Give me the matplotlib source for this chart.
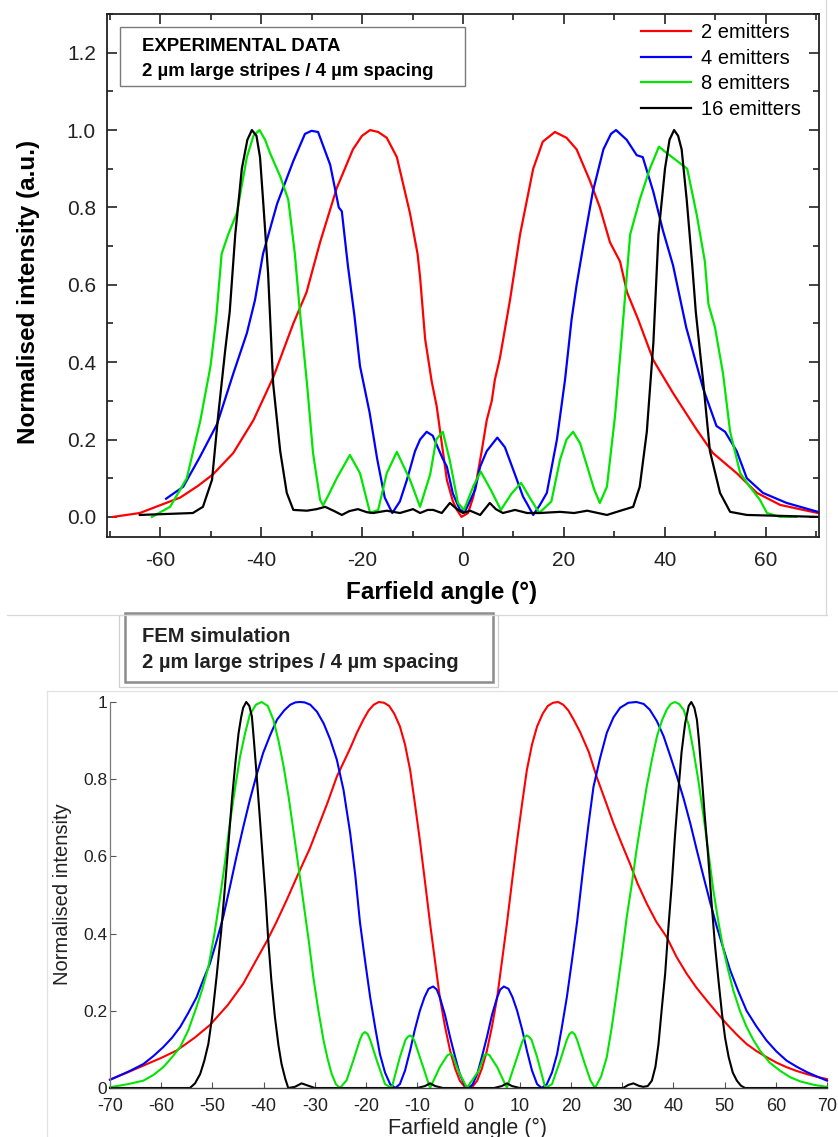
import matplotlib
matplotlib.use("Agg")
import matplotlib.pyplot as plt
from matplotlib.lines import Line2D
from matplotlib.patches import Rectangle
from matplotlib.ticker import MultipleLocator, FormatStrFormatter

plt.rcParams['font.family'] = ['Liberation Sans', 'DejaVu Sans']

# ---------------- experimental data (top panel) ----------------
exp_red_x = [-69.3, -64, -60, -56, -52.5, -49.5, -45.5, -41.5, -37.6, -33.6, -31, -28.3, -25, -21.8, -20,
             -18.4, -16.8, -15.1, -13.1, -10.5, -9, -8.5, -7.5, -6.2, -5.2, -4.2, -3.2, -2, -1.2, -0.3, 1, 2,
             2.7, 3.7, 4.7, 5.7, 6.3, 7.3, 8.5, 9.3, 11.3, 13.9, 15.8, 18.2, 20.5, 22.5, 25.1, 27.1, 29.1,
             31.1, 32.5, 34.7, 37.7, 41.6, 46.3, 49.5, 54.2, 58.2, 62.8, 67.4, 70.3]
exp_red_y = [0.0, 0.01, 0.03, 0.05, 0.08, 0.11, 0.165, 0.25, 0.36, 0.50, 0.58, 0.71, 0.85, 0.95, 0.985,
             1.0, 0.995, 0.98, 0.93, 0.785, 0.68, 0.62, 0.46, 0.35, 0.285, 0.19, 0.096, 0.04, 0.018, 0.0, 0.01,
             0.05, 0.096, 0.17, 0.25, 0.30, 0.354, 0.41, 0.50, 0.56, 0.73, 0.90, 0.97, 0.995, 0.98, 0.95, 0.87,
             0.80, 0.71, 0.66, 0.58, 0.51, 0.405, 0.32, 0.225, 0.165, 0.113, 0.062, 0.031, 0.018, 0.01]

exp_blue_x = [-58.8, -55.4, -52.1, -48.7, -45.5, -42.8, -41.2, -39.6, -36.8, -33.6, -31.3, -30, -28.7,
              -26.3, -24.6, -24.0, -22.8, -21.5, -20.4, -18.5, -17, -15.5, -14, -12.5, -11.1, -9.5, -8.5, -7.2,
              -6, -4, -3.2, -2, -0.6, 0.4, 2.4, 3.4, 4.7, 6.8, 8.3, 10, 11.9, 12.6, 13.9, 15.2, 16.6, 18.6,
              20.2, 21.5, 22.5, 23.8, 25.7, 27.8, 29.3, 30.3, 32.4, 34.4, 35.6, 37.7, 39.6, 41.6, 44.2, 47.6,
              50.2, 51.9, 54.2, 56.2, 59.4, 64.1, 70.3]
exp_blue_y = [0.047, 0.078, 0.155, 0.24, 0.37, 0.475, 0.56, 0.68, 0.81, 0.92, 0.99, 0.998, 0.995,
              0.91, 0.80, 0.79, 0.65, 0.52, 0.39, 0.27, 0.15, 0.05, 0.01, 0.04, 0.096, 0.17, 0.2, 0.22, 0.21,
              0.15, 0.13, 0.06, 0.018, 0.014, 0.07, 0.13, 0.17, 0.205, 0.18, 0.12, 0.052, 0.036, 0.005, 0.03,
              0.062, 0.2, 0.354, 0.51, 0.6, 0.70, 0.84, 0.95, 0.99, 1.0, 0.975, 0.935, 0.93, 0.84, 0.74,
              0.65, 0.49, 0.33, 0.235, 0.22, 0.17, 0.10, 0.062, 0.036, 0.013]

exp_green_x = [-61.6, -58, -54.7, -52, -50, -48.9, -47.8, -46.5, -44.8, -42.8, -41.5, -40.3, -39.2, -38.2,
               -36.2, -34.6, -33.3, -32.3, -30.9, -29.7, -28.3, -27.7, -26.5, -25, -22.4, -20.4, -18.4, -16.8,
               -15.1, -13.1, -10.5, -8.5, -6.5, -5.3, -4, -2.6, -1, 0.2, 2, 3.5, 5.5, 7.5, 9.6, 11.5, 13.3,
               15.1, 17.5, 19.2, 20.5, 21.8, 23.2, 24.6, 26, 27.1, 28.5, 30.1, 31.5, 33.1, 35, 37, 38.8,
               40.4, 42.4, 44.4, 46.3, 47.9, 48.6, 49.9, 51.5, 52.9, 54.9, 56.8, 58.8, 60.2, 62.8, 66]
exp_green_y = [0.0, 0.026, 0.10, 0.25, 0.39, 0.51, 0.68, 0.73, 0.785, 0.93, 0.985, 1.0, 0.975, 0.94,
               0.88, 0.82, 0.68, 0.53, 0.345, 0.165, 0.044, 0.03, 0.06, 0.10, 0.16, 0.113, 0.01, 0.018,
               0.113, 0.168, 0.096, 0.026, 0.11, 0.2, 0.22, 0.145, 0.036, 0.018, 0.078, 0.117, 0.07, 0.018,
               0.06, 0.088, 0.048, 0.01, 0.04, 0.147, 0.2, 0.22, 0.19, 0.13, 0.07, 0.036, 0.078, 0.26, 0.475,
               0.73, 0.82, 0.90, 0.957, 0.94, 0.92, 0.90, 0.78, 0.66, 0.55, 0.49, 0.37, 0.22, 0.113, 0.078,
               0.044, 0.01, 0.0, 0.0]

exp_black_x = [-64, -53.5, -51.5, -49.7, -48.5, -47.1, -46.2, -45.1, -43.8, -42.7, -41.8, -40.9, -40.2,
               -39.6, -38.6, -37.6, -36.2, -34.9, -33.6, -30.9, -29, -27.3, -25.5, -24, -22.5, -20.8, -19,
               -17.8, -15.1, -12.5, -9.9, -8.5, -7, -5.9, -4.2, -2.6, -1.2, 0, 1.4, 3.4, 5.3, 6.5, 7.9, 10.3,
               12.7, 15.2, 19.2, 22, 24.6, 28.5, 31.7, 33.7, 35, 36.4, 37.7, 38.7, 40, 40.9, 41.8, 42.6, 43.3,
               44.3, 45.4, 46.1, 47.6, 48.9, 50.9, 52.9, 56.2, 70.3]
exp_black_y = [0.005, 0.01, 0.026, 0.096, 0.26, 0.43, 0.53, 0.73, 0.90, 0.975, 1.0, 0.985, 0.93,
               0.82, 0.63, 0.345, 0.17, 0.062, 0.018, 0.016, 0.02, 0.026, 0.015, 0.005, 0.015, 0.02, 0.012,
               0.01, 0.016, 0.01, 0.02, 0.01, 0.018, 0.018, 0.01, 0.036, 0.02, 0.01, 0.016, 0.005, 0.036,
               0.02, 0.01, 0.018, 0.01, 0.01, 0.013, 0.01, 0.016, 0.005, 0.018, 0.026, 0.078, 0.22, 0.45,
               0.73, 0.90, 0.975, 1.0, 0.985, 0.95, 0.82, 0.65, 0.53, 0.345, 0.17, 0.062, 0.013, 0.005, 0.0]

# ---------------- FEM simulation (bottom panel) ----------------
sim_red_x = [-70, -67, -63.5, -60, -57, -53.5, -50.5, -47, -44, -41.5, -39.4, -37.5, -35.5, -32.9, -31,
             -29.6, -27.5, -25.7, -23.1, -21.8, -20.5, -19.5, -18.5, -17.5, -16.5, -15.5, -14.5, -13.4,
             -12.4, -11.4, -10.5, -9.5, -8.5, -7.5, -6.5, -5.6, -4.6, -3.6, -2.6, -1.7, -0.8, 0, 0.8, 1.7,
             2.6, 3.6, 4.6, 5.6, 6.5, 7.5, 8.5, 9.5, 10.5, 11.4, 12.4, 13.4, 14.5, 15.5, 16.5, 17.5, 18.5,
             19.5, 20.5, 21.8, 23.5, 25, 26.7, 28.3, 30, 31.5, 33, 34.8, 36.7, 38.7, 40.6, 42.6, 44.5, 46.5,
             48.5, 50.4, 52.4, 54.3, 56.2, 58.2, 60.1, 62.1, 64.1, 66.1, 68, 70]
sim_red_y = [0.022, 0.038, 0.058, 0.078, 0.097, 0.13, 0.163, 0.215, 0.27, 0.33, 0.38, 0.43, 0.487, 0.565,
             0.62, 0.668, 0.74, 0.807, 0.88, 0.92, 0.955, 0.978, 0.993, 1.0, 0.998, 0.99, 0.97, 0.937,
             0.89, 0.824, 0.74, 0.642, 0.535, 0.426, 0.325, 0.235, 0.16, 0.097, 0.05, 0.019, 0.004, 0.0,
             0.004, 0.019, 0.05, 0.097, 0.16, 0.235, 0.325, 0.426, 0.535, 0.642, 0.74, 0.824, 0.89, 0.937,
             0.97, 0.99, 0.998, 1.0, 0.993, 0.978, 0.955, 0.922, 0.87, 0.807, 0.745, 0.686, 0.63, 0.582,
             0.53, 0.478, 0.43, 0.391, 0.34, 0.296, 0.26, 0.227, 0.195, 0.166, 0.138, 0.114, 0.096, 0.08,
             0.066, 0.054, 0.044, 0.036, 0.029, 0.023]

sim_blue_x = [-70, -66, -63.5, -61.5, -59.6, -57.9, -56.3, -54.7, -53.1, -51.8, -50.5, -49.2, -47.9, -46.6,
              -45.3, -44, -42.7, -41.4, -40.1, -38.7, -37.4, -36, -34.8, -33.8, -32.9, -32, -30.9, -29.6,
              -28.3, -27, -25.7, -24.4, -23.1, -22.1, -21.2, -20.2, -19.2, -18.2, -17.3, -16.3, -15.3, -14.3,
              -13.4, -12.4, -11.4, -10.5, -9.5, -8.6, -7.8, -6.9, -6.2, -5.6, -4.6, -3.6, -2.6, -1.7, -0.8,
              0, 0.8, 1.7, 2.6, 3.6, 4.6, 5.6, 6.2, 6.9, 7.8, 8.6, 9.5, 10.5, 11.4, 12.4, 13.4, 14.3, 15.3,
              16.3, 17.3, 18.2, 19.2, 20.2, 21.2, 22.4, 23.4, 24.4, 25.7, 27, 28.3, 29.6, 31.2, 32.8, 34.2,
              35.4, 36.8, 38.1, 39.4, 40.7, 42, 43.3, 44.6, 45.9, 47.2, 48.5, 49.8, 51.1, 52.7, 54.3, 56.2,
              58.2, 60.1, 62.1, 64.1, 66.1, 68, 70]
sim_blue_y = [0.021, 0.045, 0.062, 0.083, 0.106, 0.13, 0.158, 0.195, 0.235, 0.28, 0.322, 0.38, 0.443,
              0.52, 0.6, 0.675, 0.746, 0.81, 0.868, 0.915, 0.954, 0.978, 0.993, 0.999, 1.0, 0.999, 0.993,
              0.975, 0.945, 0.903, 0.85, 0.772, 0.66, 0.55, 0.43, 0.33, 0.235, 0.155, 0.088, 0.04, 0.01, 0.0,
              0.01, 0.045, 0.097, 0.15, 0.2, 0.235, 0.257, 0.263, 0.255, 0.235, 0.19, 0.132, 0.08, 0.036,
              0.009, 0.0, 0.009, 0.036, 0.08, 0.132, 0.19, 0.235, 0.255, 0.263, 0.257, 0.235, 0.2, 0.15, 0.097,
              0.045, 0.01, 0.0, 0.01, 0.04, 0.088, 0.155, 0.235, 0.33, 0.43, 0.57, 0.68, 0.78, 0.855, 0.92,
              0.96, 0.985, 0.998, 1.0, 0.995, 0.98, 0.95, 0.911, 0.86, 0.807, 0.75, 0.686, 0.615, 0.547,
              0.48, 0.417, 0.36, 0.305, 0.25, 0.2, 0.16, 0.123, 0.095, 0.071, 0.055, 0.041, 0.03, 0.019]

sim_green_x = [-70, -66.5, -63.5, -61.5, -59.6, -58, -56.3, -54.7, -53.1, -52, -50.8, -49.6, -48.5, -47.5,
               -46.6, -45.6, -44.6, -43.6, -42.7, -41.5, -40.4, -39.2, -38.1, -37.1, -36.1, -35.1, -34.2,
               -33.2, -32.2, -31.2, -30.3, -29.3, -28.3, -27.5, -26.7, -25.9, -25.1, -23.8, -22.5, -21.2,
               -20.7, -20.2, -19.7, -19.2, -17.9, -16.3, -15, -13.4, -12.3, -11.8, -11.4, -11, -10.5, -9.5,
               -7.5, -5.6, -4.1, -3.6, -3.1, -2, -0.3, 2, 3.1, 3.6, 4.1, 5.6, 7.5, 9.5, 10.5, 11, 11.4, 11.8,
               12.3, 13.4, 15, 16.3, 17.9, 19.2, 19.7, 20.2, 20.7, 21.2, 22.5, 23.8, 24.7, 25.9, 27, 28, 29,
               30, 30.9, 31.9, 32.8, 33.8, 34.8, 35.8, 36.8, 37.8, 38.7, 39.5, 40.3, 41.1, 42, 43, 43.9, 44.9,
               45.9, 46.9, 47.8, 48.8, 49.8, 50.8, 51.7, 53, 54.3, 55.6, 56.9, 58.8, 60.8, 62.8, 64.8, 67.5, 70]
sim_green_y = [0.002, 0.01, 0.019, 0.034, 0.054, 0.078, 0.106, 0.15, 0.21, 0.255, 0.313, 0.4, 0.495, 0.59,
               0.686, 0.775, 0.859, 0.92, 0.967, 0.993, 1.0, 0.99, 0.954, 0.9, 0.833, 0.752, 0.668, 0.573,
               0.478, 0.382, 0.287, 0.2, 0.123, 0.075, 0.036, 0.01, 0.0, 0.02, 0.071, 0.125, 0.14, 0.145,
               0.14, 0.125, 0.071, 0.01, 0.0, 0.08, 0.125, 0.133, 0.136, 0.133, 0.12, 0.08, 0.0, 0.054, 0.085,
               0.088, 0.085, 0.045, 0.0, 0.045, 0.085, 0.088, 0.085, 0.054, 0.0, 0.08, 0.12, 0.133, 0.136,
               0.133, 0.125, 0.08, 0.0, 0.01, 0.071, 0.125, 0.14, 0.145, 0.14, 0.125, 0.071, 0.02, 0.0, 0.03,
               0.08, 0.16, 0.253, 0.35, 0.443, 0.53, 0.616, 0.7, 0.781, 0.85, 0.911, 0.953, 0.98, 0.995, 1.0,
               0.995, 0.98, 0.94, 0.876, 0.795, 0.703, 0.605, 0.513, 0.43, 0.357, 0.3, 0.253, 0.2, 0.158,
               0.125, 0.097, 0.066, 0.045, 0.028, 0.017, 0.008, 0.003]

sim_black_x = [-70, -54.4, -53.4, -52.4, -51.6, -50.8, -50, -49.2, -48.3, -47.5, -46.8, -46.2, -45.5,
               -44.9, -44.4, -44, -43.4, -42.8, -42.3, -41.9, -41.4, -40.8, -40.2, -39.6, -39.1, -38.5, -37.8,
               -37.1, -36.5, -35.8, -35.2, -33.9, -32.6, -31.3, -30, -10, -8.5, -7.5, -6.5, -5, 5, 6.5, 7.5,
               8.5, 10, 30.2, 31.2, 32.2, 33.2, 34.1, 35, 35.8, 36.5, 37.1, 37.7, 38.4, 39, 39.7, 40.3, 41,
               41.6, 42.3, 43, 43.5, 44.1, 44.6, 45, 45.5, 46.1, 46.8, 47.4, 48.1, 48.8, 49.5, 50.1, 50.8,
               51.6, 52.4, 53.2, 54, 70]
sim_black_y = [0.0, 0.0, 0.012, 0.036, 0.07, 0.114, 0.19, 0.287, 0.405, 0.53, 0.645, 0.746, 0.845, 0.919,
               0.96, 0.985, 1.0, 0.99, 0.963, 0.9, 0.816, 0.71, 0.6, 0.49, 0.383, 0.28, 0.184, 0.11, 0.062,
               0.025, 0.0, 0.003, 0.012, 0.006, 0.0, 0.0, 0.005, 0.012, 0.005, 0.0, 0.0, 0.005, 0.012, 0.005,
               0.0, 0.0, 0.008, 0.012, 0.006, 0.003, 0.005, 0.019, 0.055, 0.114, 0.2, 0.296, 0.41, 0.53,
               0.65, 0.772, 0.87, 0.945, 0.99, 1.0, 0.985, 0.954, 0.9, 0.816, 0.71, 0.6, 0.49, 0.374, 0.28,
               0.192, 0.13, 0.08, 0.04, 0.019, 0.006, 0.0, 0.0]

labels = ['2 emitters', '4 emitters', '8 emitters', '16 emitters']
colors = ['#ff0000', '#0000ff', '#00e600', '#000000']

W, H = 838, 1137


def fx(px):
    return px / W


def fy(py):
    return 1 - py / H


fig = plt.figure(figsize=(W / 100, H / 100), dpi=100)

# ---------------- top panel ----------------
ax1 = fig.add_axes([fx(107), fy(537), fx(819) - fx(107), fy(14) - fy(537)])
exp_sets = [(exp_red_x, exp_red_y), (exp_blue_x, exp_blue_y),
            (exp_green_x, exp_green_y), (exp_black_x, exp_black_y)]
for (xs, ys), c, lab in zip(exp_sets, colors, labels):
    ax1.plot(xs, ys, color=c, lw=1.6, label=lab, solid_joinstyle='round')

ax1.set_xlim(-70.5, 70.5)
ax1.set_ylim(-0.052, 1.30)
ax1.xaxis.set_major_locator(MultipleLocator(20))
ax1.xaxis.set_minor_locator(MultipleLocator(10))
ax1.yaxis.set_major_locator(MultipleLocator(0.2))
ax1.yaxis.set_minor_locator(MultipleLocator(0.1))
ax1.yaxis.set_major_formatter(FormatStrFormatter('%.1f'))
ax1.xaxis.set_major_formatter(FormatStrFormatter('%g'))
ax1.tick_params(which='both', direction='in', top=True, right=True, width=1.2, colors='#222222')
ax1.tick_params(which='major', length=7)
ax1.tick_params(which='minor', length=4)
ax1.tick_params(axis='x', labelsize=15, pad=10)
ax1.tick_params(axis='y', labelsize=15, pad=8)
for s in ax1.spines.values():
    s.set_linewidth(1.3)
    s.set_color('#222222')

ax1.set_xlabel('Farfield angle (°)', fontsize=17.5, fontweight='bold')
ax1.xaxis.set_label_coords((442 - 107) / 712, (537 - 593) / 523)
ax1.xaxis.label.set_va('center')
ax1.set_ylabel('Normalised intensity (a.u.)', fontsize=17.5, fontweight='bold')
ax1.yaxis.set_label_coords((29 - 107) / 712, 0.468)
ax1.yaxis.label.set_va('center')

ax1.legend(loc='upper left', bbox_to_anchor=(fx(641), fy(23)), bbox_transform=fig.transFigure,
           frameon=False, fontsize=14.5, handlelength=2.5, handletextpad=0.5,
           labelspacing=0.33, borderpad=0, borderaxespad=0)

# boxed caption, top panel
fig.add_artist(Rectangle((fx(120), fy(86)), fx(465) - fx(120), fy(27) - fy(86),
                         transform=fig.transFigure, facecolor='white', edgecolor='#7a7a7a', lw=1))
fig.text(fx(142), fy(51), 'EXPERIMENTAL DATA', fontsize=13.4, fontweight='bold', va='baseline')
fig.text(fx(142), fy(76), '2 µm large stripes / 4 µm spacing', fontsize=13.4, fontweight='bold',
         va='baseline')

# ---------------- frame lines between the two pictures ----------------
frame_c = '#d8d8d8'
fig.add_artist(Line2D([fx(826), fx(826)], [fy(0), fy(615)], transform=fig.transFigure, color=frame_c, lw=0.9))
fig.add_artist(Line2D([fx(7), fx(827)], [fy(615), fy(615)], transform=fig.transFigure, color=frame_c, lw=0.9))
fig.add_artist(Line2D([fx(47), fx(47)], [fy(691), fy(1137)], transform=fig.transFigure, color='#e2e2e2', lw=0.9))
fig.add_artist(Line2D([fx(47), fx(838)], [fy(691), fy(691)], transform=fig.transFigure, color='#e2e2e2', lw=0.9))

# boxed caption, bottom panel
fig.add_artist(Rectangle((fx(119), fy(687)), fx(498) - fx(119), fy(615) - fy(687),
                         transform=fig.transFigure, facecolor='white', edgecolor='#d0d0d0', lw=0.9))
fig.add_artist(Rectangle((fx(125), fy(682)), fx(493) - fx(125), fy(613) - fy(682),
                         transform=fig.transFigure, facecolor='white', edgecolor='#8c8c8c', lw=1.8))
fig.text(fx(142), fy(642), 'FEM simulation', fontsize=14.5, fontweight='bold', va='baseline', color='#222222')
fig.text(fx(142), fy(668), '2 µm large stripes / 4 µm spacing', fontsize=14.5, fontweight='bold',
         va='baseline', color='#222222')

# ---------------- bottom panel ----------------
ax2 = fig.add_axes([fx(110), fy(1088), fx(827) - fx(110), fy(702) - fy(1088)])
sim_sets = [(sim_red_x, sim_red_y), (sim_blue_x, sim_blue_y),
            (sim_green_x, sim_green_y), (sim_black_x, sim_black_y)]
for (xs, ys), c in zip(sim_sets, colors):
    ax2.plot(xs, ys, color=c, lw=1.5, clip_on=False, solid_joinstyle='round')

ax2.set_xlim(-70, 70)
ax2.set_ylim(0, 1)
ax2.xaxis.set_major_locator(MultipleLocator(10))
ax2.yaxis.set_major_locator(MultipleLocator(0.2))
ax2.xaxis.set_major_formatter(FormatStrFormatter('%g'))
ax2.yaxis.set_major_formatter(FormatStrFormatter('%g'))
ax2.spines['top'].set_visible(False)
ax2.spines['right'].set_visible(False)
ax2.spines['left'].set_color('#7a7a7a')
ax2.spines['bottom'].set_color('#444444')
ax2.spines['left'].set_linewidth(0.9)
ax2.spines['bottom'].set_linewidth(1.0)
ax2.tick_params(direction='in', length=4.5, width=0.8, colors='#555555', labelcolor='#222222')
ax2.tick_params(axis='x', pad=7.5, labelsize=13)
ax2.tick_params(axis='y', pad=2, labelsize=12.5)

ax2.set_xlabel('Farfield angle (°)', fontsize=15.5, color='#222222')
ax2.xaxis.set_label_coords(0.498, (1088 - 1128) / 386)
ax2.xaxis.label.set_va('center')
ax2.set_ylabel('Normalised intensity', fontsize=14.5, color='#222222')
ax2.yaxis.set_label_coords((62 - 110) / 717, 0.503)
ax2.yaxis.label.set_va('center')

fig.savefig('out.png', dpi=100)
